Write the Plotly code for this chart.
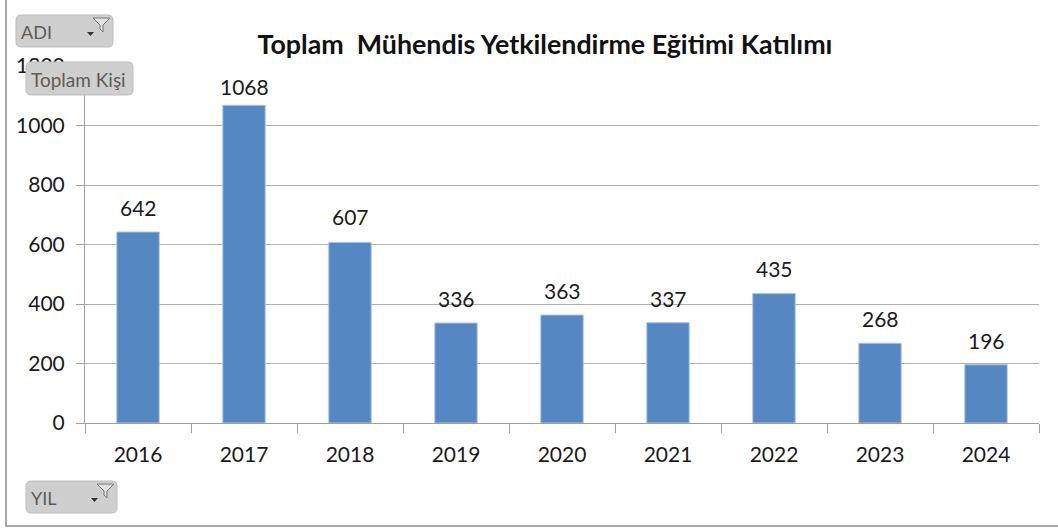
import plotly.graph_objects as go

years = ["2016", "2017", "2018", "2019", "2020", "2021", "2022", "2023", "2024"]
totals = [642, 1068, 607, 336, 363, 337, 435, 268, 196]
label_lift = [25, 19, 26, 25, 25, 24, 25, 25, 24]
y_ticks = [0, 200, 400, 600, 800, 1000, 1200]
title_text = "Toplam  Mühendis Yetkilendirme Eğitimi Katılımı"
FONT = "Lato, Carlito, Calibri, sans-serif"
W, H = 1058, 528
L, R, T, B = 85, 1039, 66, 423


def px(x):
    return (x - L) / (R - L)


def py(y):
    return (B - y) / (B - T)


def rounded(x0, y0, x1, y1, r=5):
    pts = [
        f"M{px(x0 + r)},{py(y0)}", f"L{px(x1 - r)},{py(y0)}", f"Q{px(x1)},{py(y0)} {px(x1)},{py(y0 + r)}",
        f"L{px(x1)},{py(y1 - r)}", f"Q{px(x1)},{py(y1)} {px(x1 - r)},{py(y1)}",
        f"L{px(x0 + r)},{py(y1)}", f"Q{px(x0)},{py(y1)} {px(x0)},{py(y1 - r)}",
        f"L{px(x0)},{py(y0 + r)}", f"Q{px(x0)},{py(y0)} {px(x0 + r)},{py(y0)}", "Z",
    ]
    return " ".join(pts)


def poly(points):
    return "M" + " L".join(f"{px(a)},{py(b)}" for a, b in points) + " Z"


shapes = [dict(type="rect", xref="paper", yref="paper", x0=px(6), x1=px(1062), y0=py(526), y1=py(-3),
               line=dict(color="#8C8C8C", width=1.5), fillcolor="rgba(0,0,0,0)", layer="below")]
annotations = []
buttons = [("ADI", 16, 15, 113, 47, 18), ("Toplam Kişi", 26, 62, 133, 95, 19), ("YIL", 26, 481, 117, 513, 18)]
for label, x0, y0, x1, y1, fs in buttons:
    shapes.append(dict(type="path", xref="paper", yref="paper", path=rounded(x0, y0, x1, y1),
                       fillcolor="#CFCFCF", line=dict(color="#BDBDBD", width=1), layer="above"))
    annotations.append(dict(xref="paper", yref="paper", x=px(x0 + 3), y=py((y0 + y1) / 2 + 1),
                            xanchor="left", yanchor="middle", showarrow=False, text=label,
                            font=dict(family=FONT, size=fs, color="#5F5A55")))
    if label != "Toplam Kişi":
        fx = x1 - 20
        fy = y0 + 3
        shapes.append(dict(type="path", xref="paper", yref="paper",
                           path=poly([(fx, fy), (fx + 17, fy), (fx + 10, fy + 7), (fx + 10, fy + 14), (fx + 7, fy + 11), (fx + 7, fy + 7)]),
                           fillcolor="#E2E2E2", line=dict(color="#777777", width=1), layer="above"))
        shapes.append(dict(type="path", xref="paper", yref="paper",
                           path=poly([(fx - 6, fy + 14), (fx + 1, fy + 14), (fx - 2.5, fy + 18)]),
                           fillcolor="#333333", line=dict(width=0), layer="above"))

for i, (total, lift) in enumerate(zip(totals, label_lift)):
    annotations.append(dict(x=i, y=total, xref="x", yref="y", text=str(total), showarrow=False,
                            yanchor="middle", yshift=lift,
                            font=dict(family=FONT, size=21, color="#1A1A1A")))

fig = go.Figure(go.Bar(
    x=years, y=totals, cliponaxis=False,
    marker=dict(color="#5587C2", line=dict(color="#A9C4E4", width=1)), width=0.4,
))
fig.update_layout(
    width=W, height=H, autosize=False, paper_bgcolor="white", plot_bgcolor="white",
    margin=dict(l=L, r=W - R, t=T, b=H - B, pad=0), showlegend=False,
    font=dict(family=FONT, size=21, color="#1A1A1A"),
    title=dict(text=f"<b>{title_text}</b>", x=545 / W, xanchor="center", y=1 - 45 / H, yanchor="middle",
               font=dict(family=FONT, size=26.8, color="#111111")),
    shapes=shapes, annotations=annotations,
)
fig.update_xaxes(type="category", categoryorder="array", categoryarray=years, range=[-0.5, len(years) - 0.5],
                 tickson="boundaries", ticks="outside", ticklen=9, tickcolor="#A0A0A0", tickangle=0,
                 ticklabelstandoff=13,
                 showline=True, linecolor="#A0A0A0", linewidth=1, showgrid=False,
                 tickfont=dict(family=FONT, size=21, color="#1A1A1A"))
fig.update_yaxes(range=[0, 1200], tickmode="array", tickvals=y_ticks, ticks="outside", ticklen=8,
                 ticklabelstandoff=7,
                 tickcolor="#A0A0A0", showline=True, linecolor="#A0A0A0", linewidth=1,
                 gridcolor="#B0B0B0", gridwidth=1, zeroline=False,
                 tickfont=dict(family=FONT, size=21, color="#1A1A1A"))
fig.write_html("out.html", config=dict(displayModeBar=False),
               post_script="document.body.style.margin='0';document.body.style.overflow='hidden';")
